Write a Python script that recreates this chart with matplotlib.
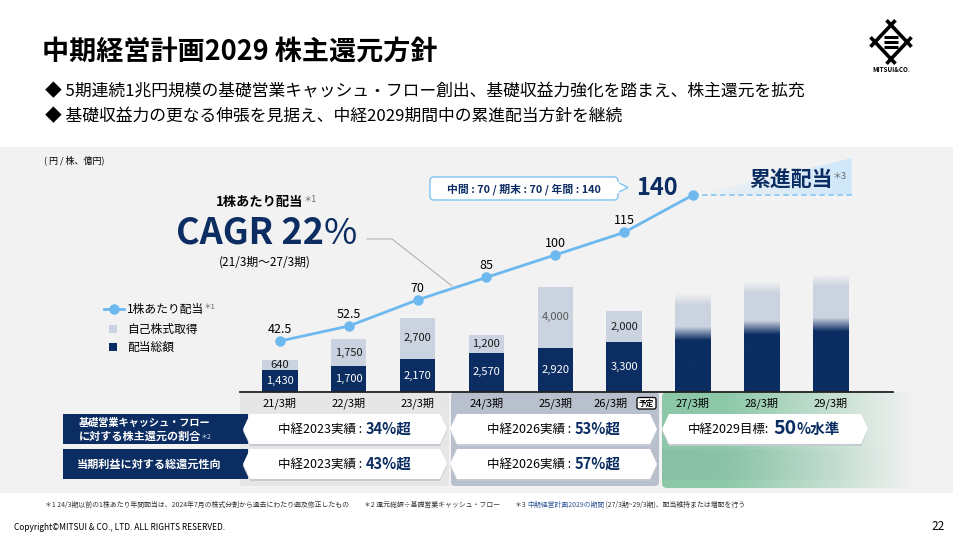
import numpy as np
import matplotlib.pyplot as plt
from matplotlib.colors import to_rgb
from matplotlib.patches import Polygon, Rectangle, FancyBboxPatch

plt.rcParams['font.family'] = ['Noto Sans CJK JP', 'DejaVu Sans']

# ---- data ----
periods = ['21/3期', '22/3期', '23/3期', '24/3期', '25/3期', '26/3期', '27/3期', '28/3期', '29/3期']
dividend_total = [1430, 1700, 2170, 2570, 2920, 3300]   # 配当総額 (億円)
buyback = [640, 1750, 2700, 1200, 4000, 2000]            # 自己株式取得 (億円)
dividend_plan = [3400, 3750, 3950]                       # 27/3-29/3 illustrative, no values printed
buyback_plan = [3100, 3480, 3740]
dps = [42.5, 52.5, 70, 85, 100, 115, 140]                # 1株あたり配当 (円)
dps_detail = '中間 : 70 / 期末 : 70 / 年間 : 140'

row_labels = [['基礎営業キャッシュ・フロー', 'に対する株主還元の割合'], ['当期利益に対する総還元性向']]
result_2023 = ['34%超', '43%超']
result_2026 = ['53%超', '57%超']
target_2029 = ['50', '%水準']

NAVY = '#0b2d62'
LIGHT = '#cbd3e0'
LINE = '#6cb8ef'
W, H = 954, 536


def px_axes(l, t, r, b):
    return [l / W, 1 - b / H, (r - l) / W, (b - t) / H]


def hexbox(x0, x1, y0, y1, d=7):
    ym = (y0 + y1) / 2
    return [(x0, ym), (x0 + d, y0), (x1 - d, y0), (x1, ym), (x1 - d, y1), (x0 + d, y1)]


fig = plt.figure(figsize=(9.54, 5.36), dpi=100)
bg = fig.add_axes([0, 0, 1, 1])
bg.axis('off')
bg.set_zorder(0)

# header
bg.text(42, 52, '中期経営計画2029 株主還元方針', fontsize=19.5, fontweight='bold', va='center')
bg.text(45, 92, '◆ 5期連続1兆円規模の基礎営業キャッシュ・フロー創出、基礎収益力強化を踏まえ、株主還元を拡充',
        fontsize=12.1, va='center')
bg.text(45, 117, '◆ 基礎収益力の更なる伸張を見据え、中経2029期間中の累進配当方針を継続',
        fontsize=12.1, va='center')

# logo
cx, cy, hw, hh = 891, 42, 16, 17
corners = [(cx - hw, cy), (cx, cy - hh), (cx + hw, cy), (cx, cy + hh)]
for k in range(4):
    a = np.array(corners[k]); b = np.array(corners[(k + 1) % 4])
    p, q = a + (a - b) * 0.28, b + (b - a) * 0.28
    bg.plot([p[0], q[0]], [p[1], q[1]], color='black', lw=2.6, solid_capstyle='butt')
for dy in (-5, 0, 5):
    bg.plot([cx - 7, cx + 7], [cy + dy, cy + dy], color='black', lw=2.2, solid_capstyle='butt')
bg.text(cx, 70, 'MITSUI&CO.', fontsize=4.5, fontweight='bold', ha='center', va='center')

# grey panel and column bands
bg.add_patch(Rectangle((0, 147), W, 345, color='#f2f2f2', zorder=0))
bg.text(44, 160, '( 円 / 株、億円)', fontsize=6.5, va='center')
bg.add_patch(Rectangle((240, 392), 209, 94, fc='#e6e6e6', ec='none', zorder=1))
bg.add_patch(FancyBboxPatch((451, 392), 208, 94, boxstyle='round,pad=0,rounding_size=4',
                            fc='#b9c0cd', ec='none', zorder=1))
green_clip = FancyBboxPatch((662, 392), 292, 96, boxstyle='round,pad=0,rounding_size=5',
                            fc='none', ec='none', zorder=1)
bg.add_patch(green_clip)
s = np.linspace(0, 1, 300)
gimg = np.zeros((1, 300, 4))
gimg[..., :3] = to_rgb('#8cc8a8')
gimg[..., 3] = np.clip((0.87 - s) / 0.66, 0, 1)
gim = bg.imshow(gimg, extent=(662, 954, 488, 392), aspect='auto', zorder=1)
gim.set_clip_path(green_clip)
timg = np.zeros((1, 300, 4))
timg[..., :3] = to_rgb('#7ea7a3')
timg[..., 3] = np.clip((0.8 - s) / 0.8, 0, 1) * 0.22
bg.imshow(timg, extent=(662, 954, 480, 449), aspect='auto', zorder=1)

# table
rows = [(414, 444), (449, 479)]
for (y0, y1), lab in zip(rows, row_labels):
    bg.add_patch(Rectangle((63, y0), 185, y1 - y0, fc=NAVY, ec='none', zorder=2))
    if len(lab) == 2:
        bg.text(79, y0 + 8.5, lab[0], color='white', fontsize=7.3, fontweight='bold', va='center')
        t = bg.text(79, y0 + 22, lab[1], color='white', fontsize=8, fontweight='bold', va='center')
        bg.annotate('＊2', xy=(1, 0.1), xycoords=t, color='#d0d6e4', fontsize=5, va='bottom')
    else:
        bg.text(77, (y0 + y1) / 2, lab[0], color='white', fontsize=8, fontweight='bold', va='center')

boxes = [(243, 447, 0), (450, 657, 0), (662, 868, 0), (243, 447, 1), (450, 657, 1)]
for x0, x1, r in boxes:
    y0, y1 = rows[r]
    bg.add_patch(Polygon([(px, py + 2) for px, py in hexbox(x0, x1, y0, y1)], fc='#c6cad2', ec='none', zorder=2))
    bg.add_patch(Polygon(hexbox(x0, x1, y0, y1), fc='white', ec='none', zorder=3))

for r, (y0, y1) in enumerate(rows):
    ym = (y0 + y1) / 2
    bg.text(362, ym, '中経2023実績 :', fontsize=9, ha='right', va='center', zorder=4)
    bg.text(366, ym - 0.5, result_2023[r], fontsize=10.5, fontweight='bold', color=NAVY, ha='left', va='center', zorder=4)
    bg.text(571, ym, '中経2026実績 :', fontsize=9, ha='right', va='center', zorder=4)
    bg.text(575, ym - 0.5, result_2026[r], fontsize=10.5, fontweight='bold', color=NAVY, ha='left', va='center', zorder=4)
bg.text(769, 429, '中経2029目標:', fontsize=9, ha='right', va='center', zorder=4)
bg.text(773, 428, target_2029[0], fontsize=14, fontweight='bold', color=NAVY, ha='left', va='center', zorder=4)
bg.text(797, 429, target_2029[1], fontsize=10.5, fontweight='bold', color=NAVY, ha='left', va='center', zorder=4)

# footnotes
fs = 4.95
bg.text(45, 505, '＊1 24/3期以前の1株あたり年間配当は、2024年7月の株式分割から過去にわたり遡及修正したもの',
        fontsize=fs, color='#333333', va='center')
bg.text(364, 505, '＊2 還元総額÷基礎営業キャッシュ・フロー', fontsize=fs, color='#333333', va='center')
f3 = bg.text(515, 505, '＊3 ', fontsize=fs, color='#333333', va='center')
f3b = bg.annotate('中期経営計画2029の期間', xy=(1, 0), xycoords=f3, fontsize=fs, color='#2f5597', va='bottom')
bg.annotate(' (27/3期~29/3期)、配当維持または増配を行う', xy=(1, 0), xycoords=f3b, fontsize=fs,
            color='#333333', va='bottom')
bg.text(14, 527, 'Copyright©MITSUI & CO., LTD. ALL RIGHTS RESERVED.', fontsize=6, va='center')
bg.text(945, 526, '22', fontsize=8.5, ha='right', va='center')

# annotations on the chart area
t = bg.text(216, 202, '1株あたり配当', fontsize=9.5, fontweight='bold', va='center')
bg.annotate('＊1', xy=(1, 0.35), xycoords=t, fontsize=6, color='#666666', va='bottom')
c = bg.text(176, 233, 'CAGR 22', fontsize=26, fontweight='bold', color=NAVY, va='center')
bg.annotate('%', xy=(1, 0), xycoords=c, fontsize=26, color=NAVY, va='bottom')
bg.text(265, 262, '(21/3期～27/3期)', fontsize=8.5, ha='center', va='center')
bg.plot([367, 392, 452], [239, 239, 286], color='#b3b3b3', lw=0.8)

bg.add_patch(FancyBboxPatch((430, 177), 188, 23, boxstyle='round,pad=0,rounding_size=4',
                            fc='white', ec='#7ec5f2', lw=1, zorder=3))
bg.add_patch(Polygon([(618, 182.5), (628, 187.5), (618, 192.5)], fc='white', ec='#7ec5f2', lw=1, zorder=3))
bg.plot([618, 618], [183.3, 191.7], color='white', lw=1.6, zorder=4)
bg.text(524, 189, dps_detail, fontsize=7.8, fontweight='bold', color=NAVY, ha='center', va='center', zorder=5)

# legend
bg.plot([104, 124], [309, 309], color=LINE, lw=2)
bg.plot([114], [309], 'o', color=LINE, ms=6.5)
bg.add_patch(Rectangle((109, 325), 8, 8, fc=LIGHT, ec='none'))
bg.add_patch(Rectangle((109, 343), 8, 8, fc=NAVY, ec='none'))
lt = bg.text(127, 309, '1株あたり配当', fontsize=8.5, va='center')
bg.annotate('＊1', xy=(1, 0.35), xycoords=lt, fontsize=5.5, color='#666666', va='bottom')
bg.text(127, 329, '自己株式取得', fontsize=8.5, va='center')
bg.text(127, 347, '配当総額', fontsize=8.5, va='center')

# ---- chart ----
ax = fig.add_axes(px_axes(240, 150, 893, 392))
ax2 = ax.twinx()
ax.set_zorder(1)
ax2.set_zorder(2)
ax.patch.set_visible(False)
ax2.patch.set_visible(False)

x = np.arange(len(periods))
bw = 0.51
ax.bar(x[:6], dividend_total, bw, color=NAVY, zorder=2)
ax.bar(x[:6], buyback, bw, bottom=dividend_total, color=LIGHT, zorder=2)
for i, (d, b) in enumerate(zip(dividend_total, buyback)):
    ax.text(i, d / 2, f'{d:,}', color='white', fontsize=8, ha='center', va='center', zorder=3)
    ax.text(i, d + b / 2, f'{b:,}', color='#595959' if b == 4000 else '#1a1a1a',
            fontsize=8, ha='center', va='center', zorder=3)

navy_rgb, light_rgb = np.array(to_rgb(NAVY)), np.array(to_rgb(LIGHT))
band, fade = 900, 800
for j, (d, b) in enumerate(zip(dividend_plan, buyback_plan)):
    top = d + b
    ys = np.linspace(0, top, 400)
    f = np.clip((d + band - ys) / band, 0, 1)[:, None]
    img = np.zeros((400, 1, 4))
    img[:, 0, :3] = f * navy_rgb + (1 - f) * light_rgb
    img[:, 0, 3] = np.clip((top - ys) / fade, 0, 1)
    xc = x[6 + j]
    ax.imshow(img, extent=(xc - bw / 2, xc + bw / 2, 0, top), origin='lower', aspect='auto', zorder=2)

for i, p in enumerate(periods):
    dx = -0.19 if i == 5 else 0
    ax.text(i + dx, -0.046, p, transform=ax.get_xaxis_transform(), fontsize=8, ha='center', va='center')
bg.add_patch(FancyBboxPatch((637, 397.5), 19, 11.5, boxstyle='round,pad=0,rounding_size=2',
                            fc='white', ec='black', lw=0.9, zorder=3))
bg.text(646.5, 403.2, '予定', fontsize=5.5, fontweight='bold', ha='center', va='center', zorder=4)

# dividend per share line
xd = x[:len(dps)]
wedge = Polygon([(6.076, 140), (8.31, 164.7), (8.31, 140)], closed=True, fc='none', ec='none',
                transform=ax2.transData)
ax2.add_patch(wedge)
wimg = np.zeros((1, 200, 4))
wimg[..., :3] = to_rgb('#cfe8fa')
wimg[..., 3] = np.linspace(0.1, 1, 200)
wim = ax2.imshow(wimg, extent=(6.076, 8.31, 140, 164.7), aspect='auto', zorder=1)
wim.set_clip_path(wedge)
ax2.plot([6, 8.31], [140, 140], color='#8ccaf3', lw=1.3, ls=(0, (3, 2)), zorder=2)
ax2.plot(xd, dps, color=LINE, lw=2, marker='o', ms=6.5, zorder=3)
for i, v in enumerate(dps[:-1]):
    ax2.annotate(f'{v:g}', (i, v), xytext=(0, 8.5), textcoords='offset points',
                 fontsize=9, ha='center', va='center')
ax2.annotate('140', (6, 140), xytext=(-25.5, 5), textcoords='offset points',
             fontsize=17, fontweight='bold', color=NAVY, ha='center', va='center')

# title of the progressive-dividend wedge, drawn above the wedge
r = ax2.text(749, 180, '累進配当', fontsize=15, fontweight='bold', color=NAVY, va='center',
             transform=bg.transData, zorder=6)
ax2.annotate('＊3', xy=(1, 0.45), xycoords=r, fontsize=6.5, color='#666666', va='bottom', zorder=6)

ax.set_xlim(-0.5814, 8.9099)
ax.set_ylim(0, 15900)
ax2.set_ylim(8.43, 170.1)
for sp in ['top', 'right', 'left']:
    ax.spines[sp].set_visible(False)
ax.spines['bottom'].set_color('#222222')
ax.spines['bottom'].set_linewidth(1.3)
for sp in ax2.spines.values():
    sp.set_visible(False)
ax.set_xticks([])
ax.set_yticks([])
ax2.set_yticks([])

bg.set_xlim(0, W)
bg.set_ylim(H, 0)

fig.savefig('out.png', dpi=100)
